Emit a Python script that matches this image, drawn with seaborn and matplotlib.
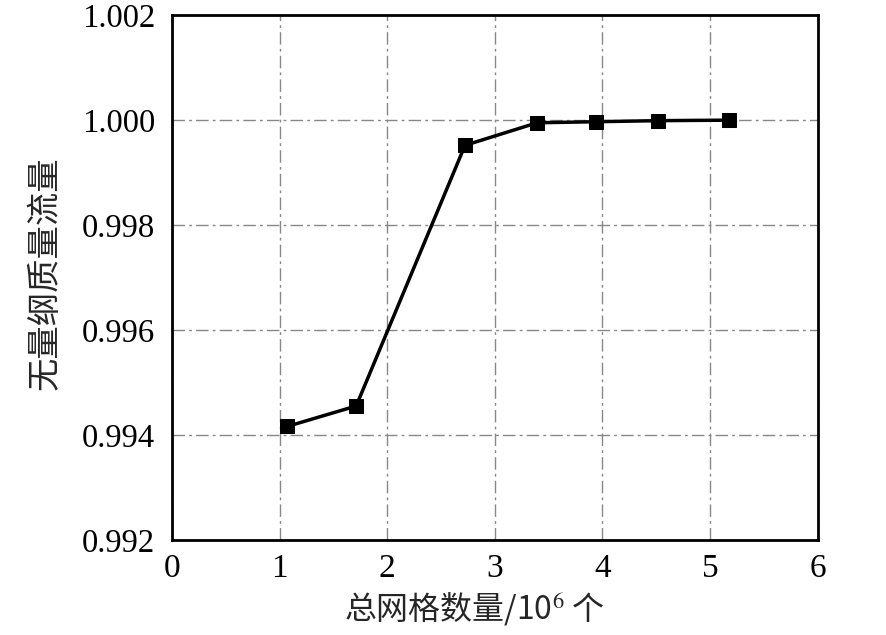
import matplotlib
matplotlib.use("Agg")
import matplotlib.pyplot as plt
import seaborn as sns
import pandas as pd

grid_counts = [1.071, 1.712, 2.723, 3.393, 3.942, 4.514, 5.177]
mass_flow = [0.99416, 0.99455, 0.99952, 0.99995, 0.99997, 0.99999, 1.00000]
x_ticks = [0, 1, 2, 3, 4, 5, 6]
y_ticks = [0.992, 0.994, 0.996, 0.998, 1.000, 1.002]
y_tick_labels = ["0.992", "0.994", "0.996", "0.998", "1.000", "1.002"]

sns.set_style("white")
plt.rcParams['font.family'] = ['Liberation Serif', 'Noto Sans CJK SC']
plt.rcParams['mathtext.fontset'] = 'stix'

df = pd.DataFrame({"x": grid_counts, "y": mass_flow})

fig = plt.figure(figsize=(8.86, 6.35), dpi=100)
ax = fig.add_axes([0.194, 0.150, 0.729, 0.826])

sns.lineplot(data=df, x="x", y="y", ax=ax, color="black", linewidth=2.5,
             marker="s", markersize=9.5, markeredgecolor="black",
             markerfacecolor="black", zorder=3)

ax.set_xlim(0, 6)
ax.set_ylim(0.992, 1.002)
ax.set_xticks(x_ticks)
ax.set_xticklabels([str(t) for t in x_ticks])
ax.set_yticks(y_ticks)
ax.set_yticklabels(y_tick_labels)

ax.grid(True, color="#888888", linestyle=(0, (9, 3, 2, 3)), linewidth=1.0)
ax.set_axisbelow(True)

for s in ax.spines.values():
    s.set_linewidth(2)
    s.set_color("black")

ax.tick_params(axis="both", direction="in", length=8, width=1.5,
               labelsize=24, colors="black", top=False, right=False)
ax.tick_params(axis="x", pad=10)
ax.tick_params(axis="y", pad=12)
for lbl in ax.get_yticklabels():
    lbl.set_fontsize(23.5)

ax.set_xlabel("总网格数量/10$^6$ 个", fontsize=23,
              family=['Noto Sans CJK SC', 'Liberation Serif'])
ax.xaxis.set_label_coords(0.469, -0.098)
ax.xaxis.label.set_va("top")
ax.set_ylabel("无量纲质量流量", fontsize=24,
              family=['Noto Sans CJK SC', 'Liberation Serif'])
ax.yaxis.set_label_coords(-0.169, 0.508)

fig.savefig("out.png", dpi=100)
